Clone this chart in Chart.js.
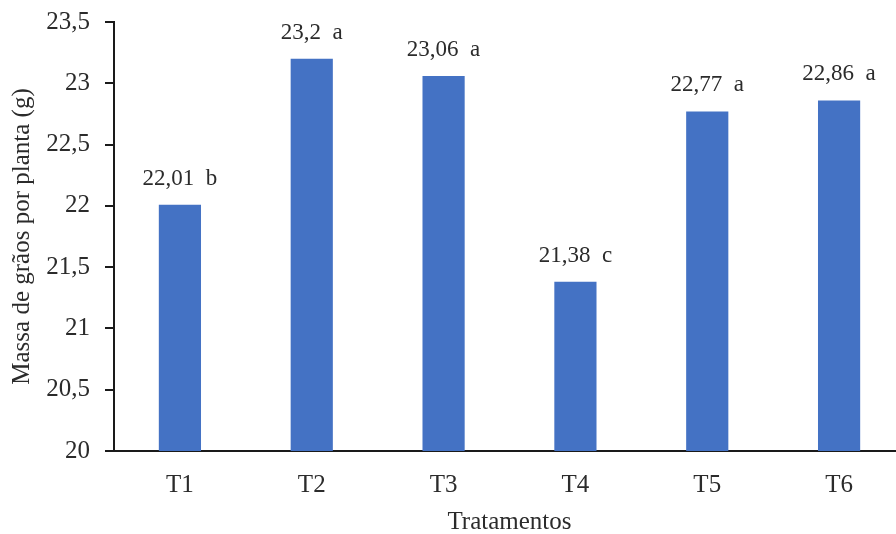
<!DOCTYPE html>
<html>
<head>
<meta charset="utf-8">
<script src="https://cdn.jsdelivr.net/npm/chart.js@4/dist/chart.umd.min.js"></script>
<style>
  html, body { margin: 0; padding: 0; background: #fff; overflow: hidden; }
  canvas { display: block; }
</style>
</head>
<body>
<canvas id="chart" width="906" height="534"></canvas>
<script>
const tratamentos = ['T1', 'T2', 'T3', 'T4', 'T5', 'T6'];
const massa = [22.01, 23.2, 23.06, 21.38, 22.77, 22.86];
const letras = ['b', 'a', 'a', 'c', 'a', 'a'];

const fmt = v => String(v).replace('.', ',');
const FONT = '"Liberation Serif", "Times New Roman", serif';
const TXT = '#2b2b2b';

// rótulos "valor  letra" em cima de cada barra
const rotulos = {
  id: 'rotulos',
  afterDatasetsDraw(chart) {
    const ctx = chart.ctx;
    const meta = chart.getDatasetMeta(0);
    ctx.save();
    ctx.font = '23px ' + FONT;
    ctx.fillStyle = TXT;
    ctx.textAlign = 'center';
    ctx.textBaseline = 'alphabetic';
    meta.data.forEach((bar, i) => {
      ctx.fillText(fmt(massa[i]) + '  ' + letras[i], bar.x, bar.y - 20);
    });
    ctx.restore();
  }
};

new Chart(document.getElementById('chart'), {
  type: 'bar',
  data: {
    labels: tratamentos,
    datasets: [{
      data: massa,
      backgroundColor: '#4472C4',
      borderWidth: 0,
      barPercentage: 0.32,
      categoryPercentage: 1
    }]
  },
  options: {
    responsive: false,
    animation: false,
    layout: { padding: { top: 22, right: 1, left: 0, bottom: 0 } },
    plugins: { legend: { display: false }, tooltip: { enabled: false } },
    scales: {
      x: {
        grid: { display: false },
        border: { display: true, color: '#1a1a1a', width: 2 },
        ticks: { color: TXT, font: { family: FONT, size: 25 }, padding: 11 },
        title: { display: true, text: 'Tratamentos', color: TXT, font: { family: FONT, size: 25 }, padding: { top: 0, bottom: -3 } },
        afterFit(scale) { scale.height = 83; }
      },
      y: {
        min: 20,
        max: 23.5,
        grid: { drawOnChartArea: false, drawTicks: true, tickLength: 9, color: '#1a1a1a', lineWidth: 2 },
        border: { display: true, color: '#1a1a1a', width: 2 },
        ticks: { stepSize: 0.5, color: TXT, font: { family: FONT, size: 25 }, padding: 15, callback: v => fmt(v) },
        title: { display: true, text: 'Massa de grãos por planta (g)', color: TXT, font: { family: FONT, size: 25 }, padding: { top: 7, bottom: 0 } },
        afterFit(scale) {
          scale.width = 114;
          scale.paddingTop = 0;
          scale.paddingBottom = 0;
        }
      }
    }
  },
  plugins: [rotulos]
});
</script>
</body>
</html>
